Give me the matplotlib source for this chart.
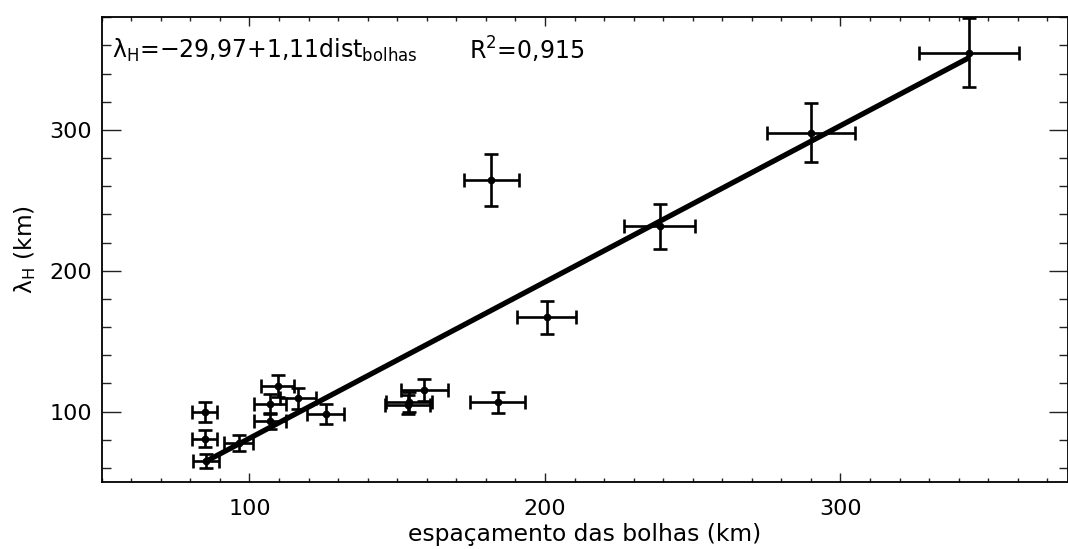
import matplotlib
matplotlib.use("Agg")
import matplotlib.pyplot as plt
from matplotlib.ticker import MultipleLocator
import numpy as np

plt.rcParams['font.family'] = ['DejaVu Sans']
plt.rcParams['mathtext.default'] = 'regular'

# bubble spacing (km) and lambda_H (km) with uncertainties
spacing = [84.8, 84.8, 85.2, 96.3, 107.0, 107.0, 109.6, 116.4, 125.8,
           154.0, 153.5, 159.2, 184.1, 181.8, 200.6, 238.9, 290.0, 343.5]
lambda_h = [99.5, 80.6, 65.2, 77.7, 93.3, 105.3, 118.0, 109.5, 98.5,
            107.0, 105.0, 115.6, 106.6, 264.5, 167.0, 231.7, 298.0, 355.0]
spacing_err = [4.3, 4.3, 4.4, 5.0, 5.5, 5.5, 5.6, 6.2, 6.3,
               7.7, 7.7, 8.0, 9.3, 9.3, 10.0, 12.0, 15.0, 17.0]
lambda_err = [7.0, 6.0, 5.0, 6.0, 6.0, 7.0, 7.8, 7.5, 7.0,
              7.0, 7.0, 7.8, 7.5, 18.6, 11.8, 16.0, 21.0, 24.8]

intercept = -29.97
slope = 1.11
r2 = 0.915

fig = plt.figure(figsize=(10.68, 5.49), dpi=100)
ax = fig.add_axes([101.7/1068, 1-482/549, 1-101.7/1068, (482-17.3)/549])

ax.errorbar(spacing, lambda_h, xerr=spacing_err, yerr=lambda_err, fmt='o',
            color='black', ms=4.5, elinewidth=1.9, capsize=5, capthick=1.9)

xl = np.array([min(spacing), max(spacing)])
ax.plot(xl, intercept + slope*xl, color='black', lw=3.8, solid_capstyle='butt')

ax.set_xlim(50, 377)
ax.set_ylim(50, 380)
ax.xaxis.set_major_locator(MultipleLocator(100))
ax.xaxis.set_minor_locator(MultipleLocator(10))
ax.yaxis.set_major_locator(MultipleLocator(100))
ax.yaxis.set_minor_locator(MultipleLocator(20))
ax.tick_params(axis='both', which='both', direction='in', top=True, right=True,
               labelsize=16, width=1.0, color='#222222')
ax.tick_params(axis='x', which='major', length=6.5, pad=12)
ax.tick_params(axis='x', which='minor', length=3.2)
ax.tick_params(axis='y', which='major', length=13.7, pad=7)
ax.tick_params(axis='y', which='minor', length=6.8)
for s in ax.spines.values():
    s.set_linewidth(1.3)

ax.set_xlabel('espaçamento das bolhas (km)', fontsize=16.8, labelpad=3)
ax.set_ylabel(r'$\lambda_H$ (km)', fontsize=16.8, labelpad=8)

fig.text(112/1068, 1-50/549, r'$\lambda_H$=$-$29,97+1,11dist$_{bolhas}$',
         fontsize=17, va='center', ha='left')
fig.text(469/1068, 1-50/549, 'R$^2$=' + f'{r2:.3f}'.replace('.', ','),
         fontsize=17, va='center', ha='left')

fig.savefig('out.png', dpi=100)
